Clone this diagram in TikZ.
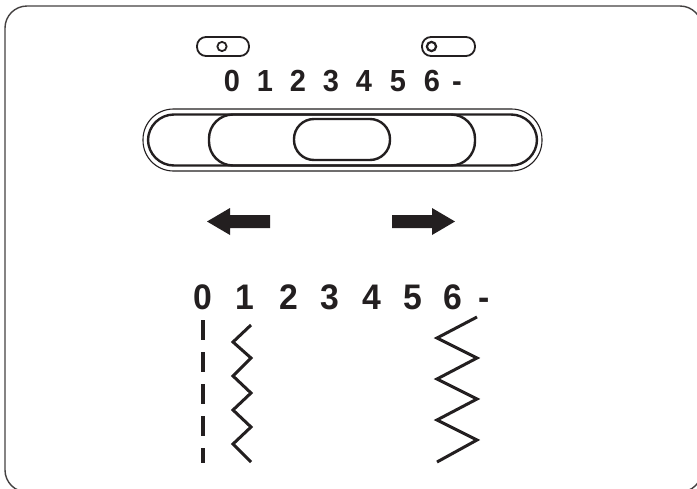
\documentclass[tikz,border=0pt]{standalone}
\usepackage{fontspec}
\setmainfont{Liberation Sans}
\definecolor{ink}{HTML}{231F20}
\begin{document}
\begin{tikzpicture}[x=1pt,y=-1pt,
  topnum/.style={font=\bfseries\fontsize{30.5}{30.5}\selectfont, text=ink, anchor=base, inner sep=0pt, xscale=0.95},
  botnum/.style={font=\bfseries\fontsize{35.5}{35.5}\selectfont, text=ink, anchor=base, inner sep=0pt, xscale=0.95},
  thick line/.style={draw=ink, line width=2.4pt},
  thin line/.style={draw=ink, line width=1.1pt},
  stitch/.style={draw=ink, line width=3pt, line join=miter, miter limit=10}]
\useasboundingbox (0,0) rectangle (697,488);
\clip (0,0) rectangle (697,488);
\fill[white] (0,0) rectangle (697,488);
% frame
\draw[draw=ink!85, line width=1.4pt, rounded corners=22pt] (5,6) rectangle (702,492);
% small switches
\draw[draw=ink, line width=1.8pt, rounded corners=9pt] (197,37) rectangle (249,56);
\draw[draw=ink, line width=1.8pt] (222,46.5) circle (4.6);
\draw[draw=ink, line width=1.8pt, rounded corners=9pt] (422,37) rectangle (475,56);
\draw[draw=ink, line width=2.2pt] (431.5,46.5) circle (4.6);
% top scale
\foreach \n/\x in {0/232,1/265,2/298,3/331,4/364,5/398,6/432}
  \node[topnum] (t\n) at (\x,91) {\n};
\node[topnum] (tm) at (457,91) {-};
% slider track
\draw[thin line, rounded corners=30.5pt] (143,109) rectangle (542,171);
\draw[thick line, rounded corners=26pt] (148,114.5) rectangle (537,165.5);
\draw[thick line, rounded corners=24pt] (209,114.5) rectangle (475,165.5);
\draw[thick line, rounded corners=20pt] (294,119) rectangle (390,160);
% arrows
\fill[ink] (207,221.5) -- (230,208) -- (230,215) -- (270,215) -- (270,228) -- (230,228) -- (230,235) -- cycle;
\fill[ink] (455,221.5) -- (432,208) -- (432,215) -- (392,215) -- (392,228) -- (432,228) -- (432,235) -- cycle;
% bottom scale
\foreach \n/\x in {0/203,1/245,2/289,3/330,4/372,5/413,6/453}
  \node[botnum] (b\n) at (\x,309) {\n};
\node[botnum] (bm) at (484,309) {-};
% stitches
\draw[draw=ink, line width=4pt, dash pattern=on 20pt off 12pt] (203,320) -- (203,463);
\draw[stitch] (251,325) -- (233,342) -- (251,358) -- (233,376) -- (251,393) -- (233,410) -- (251,427) -- (233,444) -- (251,462);
\draw[stitch] (477,317) -- (437,338) -- (477,358) -- (437,379) -- (477,399) -- (437,420) -- (477,440) -- (437,462);
\end{tikzpicture}
\end{document}
